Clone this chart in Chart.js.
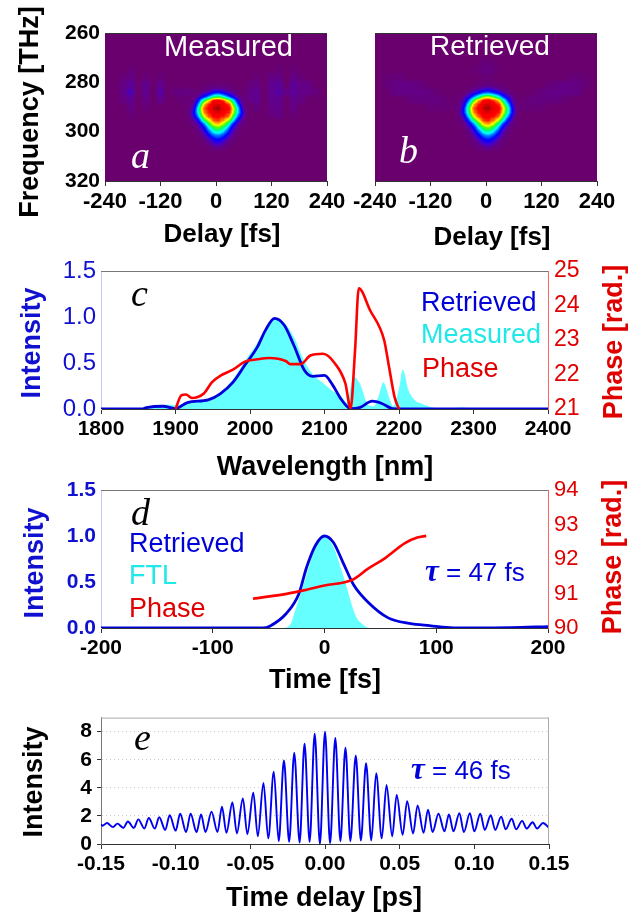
<!DOCTYPE html>
<html>
<head>
<meta charset="utf-8">
<style>
    html, body { margin: 0; padding: 0; background: #fff; }
    #page { position: relative; width: 639px; height: 913px; overflow: hidden; background: #fff; filter: blur(0.35px); }
    #page canvas { position: absolute; }
    .note { position: absolute; line-height: 1; white-space: nowrap; transform: translateY(-50%); font-family: "Liberation Sans", sans-serif; }
    .letter { font-family: "Liberation Serif", serif; font-style: italic; font-size: 38px; }
    .tau { font-family: "Liberation Serif", serif; font-style: italic; font-weight: bold; font-size: 31px; }
    .title { position: absolute; line-height: 1; white-space: nowrap; font-family: "Liberation Sans", sans-serif; font-weight: bold; font-size: 27px; transform: translate(-50%, -50%); color: #000; }
    .up { transform: translate(-50%, -50%) rotate(-90deg); }
</style>
</head>
<body>
<div id="page">
    <canvas id="chartA" width="350" height="245" style="left:0;top:0"></canvas>
    <canvas id="chartB" width="289" height="245" style="left:350px;top:0"></canvas>
    <canvas id="chartC" width="639" height="235" style="left:0;top:250px"></canvas>
    <canvas id="chartD" width="639" height="225" style="left:0;top:470px"></canvas>
    <canvas id="chartE" width="639" height="213" style="left:0;top:700px"></canvas>

    <span class="title" style="left:222px;top:233px;font-size:26px">Delay [fs]</span>
    <span class="title" style="left:492px;top:236px;font-size:26px">Delay [fs]</span>
    <span class="title" style="left:325px;top:466px">Wavelength [nm]</span>
    <span class="title" style="left:325px;top:679px">Time [fs]</span>
    <span class="title" style="left:324px;top:897px">Time delay [ps]</span>

    <span class="title up" style="left:29px;top:112px">Frequency [THz]</span>
    <span class="title up" style="left:31px;top:343px;color:#1010d0">Intensity</span>
    <span class="title up" style="left:34px;top:563px;color:#1010d0">Intensity</span>
    <span class="title up" style="left:33px;top:782px">Intensity</span>
    <span class="title up" style="left:613px;top:342px;color:#e00000">Phase [rad.]</span>
    <span class="title up" style="left:612px;top:557px;color:#e00000">Phase [rad.]</span>

    <span class="note" style="left:164px;top:46px;font-size:29px;color:#fff">Measured</span>
    <span class="note" style="left:430px;top:46px;font-size:28px;color:#fff">Retrieved</span>
    <span class="note letter" style="left:131px;top:155px;color:#fff">a</span>
    <span class="note letter" style="left:399px;top:150px;color:#fff">b</span>
    <span class="note letter" style="left:131px;top:293px;color:#000">c</span>
    <span class="note letter" style="left:131px;top:512px;color:#000">d</span>
    <span class="note letter" style="left:134px;top:737px;color:#000">e</span>

    <span class="note" style="left:421px;top:302px;font-size:27px;color:#0000d8">Retrieved</span>
    <span class="note" style="left:421px;top:334px;font-size:27px;color:#20e8e8">Measured</span>
    <span class="note" style="left:422px;top:368px;font-size:27px;color:#e00000">Phase</span>

    <span class="note" style="left:129px;top:543px;font-size:27px;color:#0000d8">Retrieved</span>
    <span class="note" style="left:129px;top:575px;font-size:27px;color:#20e8e8">FTL</span>
    <span class="note" style="left:129px;top:608px;font-size:27px;color:#e00000">Phase</span>

    <span class="note" style="left:425px;top:570px;font-size:26px;color:#0000d8"><span class="tau">τ</span> = 47 fs</span>
    <span class="note" style="left:411px;top:768px;font-size:26px;color:#0000d8"><span class="tau">τ</span> = 46 fs</span>
</div>

<script src="https://cdn.jsdelivr.net/npm/chart.js@4"></script>
<script>
// tick labels
const delayTicks = [-240, -120, 0, 120, 240];
const freqTicks = [260, 280, 300, 320];
const intensityTicks = [0, 0.5, 1, 1.5];
const wavelengthTicks = [1800, 1900, 2000, 2100, 2200, 2300, 2400];
const phaseCTicks = [21, 22, 23, 24, 25];
const timeTicks = [-200, -100, 0, 100, 200];
const phaseDTicks = [90, 91, 92, 93, 94];
const acTicksX = [-0.15, -0.10, -0.05, 0, 0.05, 0.10, 0.15];
const acTicksY = [0, 2, 4, 6, 8];

// FROG traces, levels in percent. Coarse grid holds the faint features, fine grid the main spot
const coarseDelays = [-232, -216, -200, -184, -168, -152, -136, -120, -104, -88, -72, -56, -40, -24, -8, 8, 24, 40, 56, 72, 88, 104, 120, 136, 152, 168, 184, 200, 216, 232];
const coarseFreqs = [272, 275, 278, 281, 284, 287, 290, 293];
const measuredFaint = [
    [0,0,0,0,0,0,0,0,0,0,0,0,0,0,0,0,0,0,0,0,0,0,0,0,0,0,0,0,0,0],
    [0,0,0,2,0,0,0,0,0,0,0,0,0,0,0,0,0,0,0,0,0,0,0,2,0,2,0,0,0,0],
    [0,0,2,4,0,2,0,2,0,0,0,0,0,0,0,0,0,0,0,0,2,0,4,4,0,4,2,0,0,0],
    [0,0,4,7,0,6,0,6,0,0,0,0,0,0,0,0,0,0,0,2,4,0,6,7,0,7,4,4,0,0],
    [0,0,5,9,0,6,0,8,0,3,3,3,0,0,0,0,0,0,0,4,6,0,6,8,4,7,4,4,2,0],
    [0,0,3,6,0,4,0,5,0,0,2,0,0,0,0,0,0,0,0,4,6,0,5,6,0,5,3,0,0,0],
    [0,0,0,4,0,2,0,0,0,0,0,0,0,0,0,0,0,0,0,0,3,0,4,5,0,4,0,0,0,0],
    [0,0,0,2,0,0,0,0,0,0,0,0,0,0,0,0,0,0,0,0,0,0,3,4,0,2,0,0,0,0]
];
const retrievedFaint = [
    [0,0,0,0,0,0,0,0,0,0,0,0,0,0,2,2,0,0,0,0,0,0,0,0,0,0,0,0,0,0],
    [0,0,0,0,0,0,0,0,0,0,0,0,0,1,3,3,1,0,0,0,0,0,0,0,0,0,0,0,0,0],
    [0,1,2,2,0,0,0,0,0,0,0,0,0,0,1,1,0,0,0,0,0,0,0,0,0,0,2,2,1,0],
    [0,2,3,4,4,3,2,0,0,0,0,0,0,0,0,0,0,0,0,0,0,0,0,2,3,4,4,3,2,0],
    [0,0,3,4,4,4,4,3,1,0,0,0,0,0,0,0,0,0,0,0,0,1,3,4,4,4,4,3,0,0],
    [0,0,0,0,2,3,3,3,3,2,0,0,0,0,0,0,0,0,0,0,2,3,3,3,3,2,0,0,0,0],
    [0,0,0,0,0,0,0,2,2,2,1,0,0,0,0,0,0,0,0,1,2,2,2,0,0,0,0,0,0,0],
    [0,0,0,0,0,0,0,0,0,0,0,0,0,0,0,0,0,0,0,0,0,0,0,0,0,0,0,0,0,0]
];
const fineDelays = [-64, -56, -48, -40, -32, -24, -16, -8, 0, 8, 16, 24, 32, 40, 48, 56, 64];
const fineFreqs = [281, 282.6, 284.2, 285.8, 287.4, 289, 290.6, 292.2, 293.8, 295.4, 297, 298.6, 300.2, 301.8, 303.4, 305, 306.6];
const measuredSpot = [
    [0,0,0,0,0,1,1,2,2,2,1,1,0,0,0,0,0],
    [0,0,0,0,1,2,4,5,6,6,5,4,2,1,0,0,0],
    [0,0,0,2,5,8,12,18,24,24,18,12,8,5,2,0,0],
    [0,1,2,5,14,22,34,46,55,55,46,34,22,14,5,2,1],
    [0,1,4,18,40,60,73,87,90,90,87,73,60,40,18,4,1],
    [1,2,8,30,56,79,86,92,96,96,92,86,79,56,30,8,2],
    [1,3,14,42,69,84,89,97,100,100,97,89,84,69,42,14,3],
    [1,5,20,42,65,82,86,92,96,96,92,86,82,65,42,20,5],
    [1,3,15,32,56,73,84,87,88,88,87,84,73,56,32,15,3],
    [0,2,7,18,38,60,70,80,84,84,80,70,60,38,18,7,2],
    [0,1,3,7,20,35,57,68,74,74,68,57,35,20,7,3,1],
    [0,0,1,4,11,22,40,52,60,60,52,40,22,11,4,1,0],
    [0,0,0,2,6,14,28,40,46,46,40,28,14,6,2,0,0],
    [0,0,0,1,3,8,16,26,31,31,26,16,8,3,1,0,0],
    [0,0,0,0,1,4,8,15,20,20,15,8,4,1,0,0,0],
    [0,0,0,0,0,1,4,8,11,11,8,4,1,0,0,0,0],
    [0,0,0,0,0,0,1,3,5,5,3,1,0,0,0,0,0]
];
const retrievedSpot = [
    [0,0,0,0,0,1,2,3,3,3,3,2,1,0,0,0,0],
    [0,0,0,1,2,4,6,9,11,11,9,6,4,2,1,0,0],
    [0,0,1,4,9,14,20,26,30,30,26,20,14,9,4,1,0],
    [1,2,5,13,22,34,48,60,66,66,60,48,34,22,13,5,2],
    [1,3,10,26,46,66,80,86,90,90,86,80,66,46,26,10,3],
    [2,5,16,40,62,80,86,93,97,97,93,86,80,62,40,16,5],
    [2,6,22,50,72,84,90,97,100,100,97,90,84,72,50,22,6],
    [2,6,24,48,68,82,87,92,96,96,92,87,82,68,48,24,6],
    [1,4,16,36,58,74,84,88,89,89,88,84,74,58,36,16,4],
    [1,2,8,22,42,60,72,82,85,85,82,72,60,42,22,8,2],
    [0,1,3,10,22,38,58,70,76,76,70,58,38,22,10,3,1],
    [0,0,2,5,13,24,42,54,62,62,54,42,24,13,5,2,0],
    [0,0,1,2,7,15,29,41,48,48,41,29,15,7,2,1,0],
    [0,0,0,1,4,9,17,27,33,33,27,17,9,4,1,0,0],
    [0,0,0,0,2,5,9,16,21,21,16,9,5,2,0,0,0],
    [0,0,0,0,1,2,5,9,12,12,9,5,2,1,0,0,0],
    [0,0,0,0,0,1,2,4,6,6,4,2,1,0,0,0,0]
];

// panel c, spectrum
const retrievedLambda = [1800, 1855, 1861, 1883, 1900, 1916, 1944, 1960, 1977, 1993, 2010, 2021, 2033, 2046, 2059, 2073, 2084, 2100, 2111, 2122, 2135, 2147, 2164, 2177, 2191, 2205, 2400];
const retrievedSpec = [0, 0, 0.015, 0.03, 0.005, 0.07, 0.10, 0.165, 0.29, 0.475, 0.675, 0.86, 0.985, 0.91, 0.69, 0.42, 0.355, 0.365, 0.26, 0.11, 0.005, 0.015, 0.085, 0.06, 0.005, 0, 0];
const measuredLambda = [1800, 1860, 1875, 1890, 1900, 1916, 1944, 1960, 1977, 1993, 2010, 2021, 2033, 2046, 2059, 2073, 2084, 2100, 2110, 2122, 2130, 2139, 2148, 2158, 2166, 2173, 2179, 2187, 2192, 2200, 2205, 2213, 2222, 2230, 2245, 2260, 2285, 2305, 2400];
const measuredSpec = [0, 0, 0.03, 0.05, 0.04, 0.07, 0.11, 0.18, 0.32, 0.52, 0.72, 0.88, 0.99, 0.94, 0.78, 0.52, 0.38, 0.27, 0.20, 0.14, 0.07, 0.35, 0.27, 0.05, 0.03, 0.15, 0.29, 0.12, 0.03, 0.22, 0.43, 0.2, 0.09, 0.06, 0.015, 0, 0.015, 0, 0];
const phaseLambda = [1900, 1908, 1914, 1922, 1938, 1949, 1960, 1977, 1993, 2010, 2026, 2048, 2054, 2068, 2081, 2098, 2114, 2128, 2135, 2141, 2146, 2161, 2180, 2186, 2194, 2200];
const phaseSpec = [21, 21.4, 21.42, 21.32, 21.45, 21.78, 21.96, 22.14, 22.37, 22.44, 22.48, 22.39, 22.3, 22.3, 22.55, 22.6, 22.32, 21.74, 21.02, 22.7, 24.5, 23.87, 23, 22.3, 21.35, 21];

// panel d, pulse
const retrievedTime = [-200, -55, -49, -34, -23, -16, -8, 0, 8, 17, 26, 39, 57, 76, 94, 112, 131, 167, 200];
const retrievedPulse = [0, 0, 0.02, 0.16, 0.37, 0.66, 0.9, 1, 0.93, 0.7, 0.47, 0.28, 0.11, 0.05, 0.025, 0.005, 0, 0.003, 0.015];
const ftlTime = [-200, -38, -30, -27, -17.6, -8, 0, 8, 17, 28, 34, 40, 200];
const ftlPulse = [0, 0, 0.05, 0.16, 0.52, 0.88, 1, 0.88, 0.56, 0.13, 0.04, 0, 0];
const phaseTime = [-64, -34, -16, 0, 25, 39, 54, 72, 83, 91];
const phasePulse = [90.85, 90.99, 91.11, 91.23, 91.4, 91.72, 92.02, 92.46, 92.62, 92.67];

// panel e, autocorrelation: turning points of the fringes
const acDelay = [-0.15, -0.149, -0.146, -0.142, -0.139, -0.135, -0.132, -0.128, -0.125, -0.121, -0.118, -0.114, -0.111, -0.107, -0.104, -0.1, -0.097, -0.093, -0.09, -0.086, -0.083, -0.08, -0.076, -0.072, -0.069, -0.066, -0.062, -0.059, -0.055, -0.052, -0.048, -0.045, -0.0412, -0.038, -0.0343, -0.031, -0.0275, -0.024, -0.0206, -0.017, -0.0137, -0.0103, -0.0069, -0.0034, 0, 0.0034, 0.0069, 0.0103, 0.0137, 0.017, 0.0206, 0.024, 0.0275, 0.031, 0.0343, 0.038, 0.0412, 0.045, 0.048, 0.052, 0.055, 0.059, 0.062, 0.066, 0.069, 0.072, 0.076, 0.08, 0.083, 0.086, 0.09, 0.093, 0.097, 0.1, 0.104, 0.107, 0.111, 0.114, 0.118, 0.121, 0.125, 0.128, 0.132, 0.135, 0.139, 0.142, 0.146, 0.15];
const acIntensity = [1.4, 1.3, 1.5, 1.2, 1.45, 1.15, 1.6, 1.15, 1.75, 1.1, 1.85, 1.1, 1.9, 1.0, 2.05, 0.95, 2.15, 0.85, 2.15, 0.85, 2.1, 0.85, 2.3, 0.85, 2.65, 0.8, 2.95, 0.75, 3.25, 0.7, 3.65, 0.55, 4.35, 0.4, 5.15, 0.2, 5.95, 0.15, 6.5, 0.1, 7.15, 0.15, 7.85, 0, 8, 0.05, 7.55, 0.2, 6.85, 0.2, 6.3, 0.25, 5.75, 0.25, 5.05, 0.4, 4.2, 0.55, 3.5, 0.65, 3.05, 0.75, 2.75, 0.8, 2.45, 0.85, 2.15, 0.9, 2.1, 0.9, 2.2, 0.85, 2.2, 0.9, 2.15, 1.0, 2.05, 1.0, 1.95, 1.05, 1.8, 1.05, 1.65, 1.1, 1.55, 1.1, 1.5, 1.15];

// rainbow colour map for the traces
const mapStops = [
    [0, 106, 0, 110], [0.06, 95, 0, 145], [0.12, 60, 0, 215], [0.2, 0, 0, 255], [0.32, 0, 130, 255], [0.4, 0, 255, 255],
    [0.5, 0, 255, 110], [0.57, 80, 255, 0], [0.65, 255, 255, 0], [0.72, 255, 130, 0], [0.79, 255, 0, 0], [0.86, 235, 0, 0], [0.93, 125, 5, 10], [1, 90, 10, 15]
];

function mapColor(v) {
    let i = 1;
    while (i < mapStops.length - 1 && v > mapStops[i][0]) i++;
    const a = mapStops[i - 1], b = mapStops[i];
    const t = Math.min(1, Math.max(0, (v - a[0]) / (b[0] - a[0])));
    return [a[1] + (b[1] - a[1]) * t, a[2] + (b[2] - a[2]) * t, a[3] + (b[3] - a[3]) * t];
}

function gridCells(xs, ys, rows) {
    const cells = [];
    rows.forEach((row, j) => row.forEach((v, i) => {
        if (v > 0) cells.push({x: xs[i], y: ys[j], v: v / 100, dx: xs[1] - xs[0], dy: ys[1] - ys[0]});
    }));
    return cells;
}

// draws the cells of dataset 0 through the scales, smooths the levels and colours them afterwards
const heatmapPlugin = {
    id: 'heatmap',
    beforeDatasetsDraw(chart) {
        const area = chart.chartArea;
        const xScale = chart.scales.x, yScale = chart.scales.y;
        const w = Math.round(area.width), h = Math.round(area.height);
        const raw = document.createElement('canvas');
        raw.width = w; raw.height = h;
        const rawCtx = raw.getContext('2d');
        rawCtx.fillStyle = '#000';
        rawCtx.fillRect(0, 0, w, h);
        rawCtx.globalCompositeOperation = 'lighten';
        chart.data.datasets[0].data.forEach(c => {
            const x0 = xScale.getPixelForValue(c.x - c.dx / 2) - area.left;
            const x1 = xScale.getPixelForValue(c.x + c.dx / 2) - area.left;
            const y0 = yScale.getPixelForValue(c.y - c.dy / 2) - area.top;
            const y1 = yScale.getPixelForValue(c.y + c.dy / 2) - area.top;
            const g = Math.round(c.v * 255);
            rawCtx.fillStyle = `rgb(${g},${g},${g})`;
            rawCtx.fillRect(x0, y0, x1 - x0, y1 - y0);
        });
        const out = document.createElement('canvas');
        out.width = w; out.height = h;
        const outCtx = out.getContext('2d');
        outCtx.filter = 'blur(1.4px)';
        outCtx.drawImage(raw, 0, 0);
        outCtx.filter = 'none';
        const img = outCtx.getImageData(0, 0, w, h);
        for (let i = 0; i < img.data.length; i += 4) {
            const c = mapColor(img.data[i] / 255);
            img.data[i] = c[0]; img.data[i + 1] = c[1]; img.data[i + 2] = c[2]; img.data[i + 3] = 255;
        }
        outCtx.putImageData(img, 0, 0);
        chart.ctx.drawImage(out, area.left, area.top);
    }
};

// top and right edge of the plot box
const framePlugin = {
    id: 'frame',
    afterDraw(chart, args, opts) {
        const a = chart.chartArea, ctx = chart.ctx;
        ctx.save();
        ctx.lineWidth = 1;
        ctx.strokeStyle = opts.top;
        ctx.beginPath();
        ctx.moveTo(a.left, a.top + 0.5);
        ctx.lineTo(a.right, a.top + 0.5);
        ctx.stroke();
        if (opts.right) {
            ctx.strokeStyle = opts.right;
            ctx.beginPath();
            ctx.moveTo(a.right - 0.5, a.top);
            ctx.lineTo(a.right - 0.5, a.bottom);
            ctx.stroke();
        }
        ctx.restore();
    }
};

const boldFont = size => ({family: 'Liberation Sans', size: size, weight: 'bold'});
const plainFont = size => ({family: 'Liberation Sans', size: size});

// linear axis with fixed ticks and a fixed box size, so the plot lands where it has to
function axis(o) {
    const size = o.size;
    return {
        type: 'linear',
        position: o.position,
        min: o.min,
        max: o.max,
        reverse: !!o.reverse,
        afterBuildTicks: s => { s.ticks = o.values.map(v => ({value: v})); },
        afterFit: s => {
            if (s.isHorizontal()) s.height = size; else s.width = size;
        },
        ticks: {
            display: o.labels !== false,
            autoSkip: false,
            maxRotation: 0,
            padding: o.pad === undefined ? 3 : o.pad,
            color: o.color || '#000',
            font: o.font || boldFont(21),
            callback: v => o.decimals === undefined ? String(v) : v.toFixed(o.decimals)
        },
        grid: {
            display: true,
            drawOnChartArea: !!o.gridColor,
            color: o.gridColor || 'rgba(0,0,0,0)',
            drawTicks: o.tickLength !== 0,
            tickLength: o.tickLength === undefined ? 5 : o.tickLength,
            tickColor: o.tickColor || '#333'
        },
        border: {color: o.borderColor || '#333', width: 1, dash: o.dash}
    };
}

function traceChart(id, plotLeft, plotRight, faint, spot, yOpts) {
    new Chart(document.getElementById(id), {
        type: 'scatter',
        plugins: [heatmapPlugin, framePlugin],
        data: {
            datasets: [{
                data: gridCells(coarseDelays, coarseFreqs, faint).concat(gridCells(fineDelays, fineFreqs, spot)),
                pointRadius: 0
            }]
        },
        options: {
            responsive: false,
            animation: false,
            devicePixelRatio: 1,
            events: [],
            layout: {padding: {top: 33, right: plotRight, left: 0, bottom: 0}},
            scales: {
                x: axis({position: 'bottom', min: -240, max: 240, values: delayTicks, size: 64, tickLength: 5, font: boldFont(22)}),
                y: axis(Object.assign({position: 'left', min: 260, max: 320, reverse: true, values: freqTicks, size: plotLeft, tickLength: 0, pad: 5, borderColor: '#6a006e'}, yOpts))
            },
            plugins: {legend: {display: false}, tooltip: {enabled: false}, frame: {top: '#333'}}
        }
    });
}

traceChart('chartA', 105, 23, measuredFaint, measuredSpot, {});
traceChart('chartB', 25, 42, retrievedFaint, retrievedSpot, {labels: false});

function pts(xs, ys) {
    return xs.map((x, i) => ({x: x, y: ys[i]}));
}

const BLUE = '#0000dc', RED = '#ff0000', CYAN = '#66ffff';
const TEXT_BLUE = '#1010d0', TEXT_RED = '#e00000';

function lineSet(xs, ys, color, yAxisID, width) {
    return {data: pts(xs, ys), borderColor: color, borderWidth: width, pointRadius: 0, cubicInterpolationMode: 'monotone', fill: false, yAxisID: yAxisID};
}

function fillSet(xs, ys) {
    return {data: pts(xs, ys), borderWidth: 0, backgroundColor: CYAN, pointRadius: 0, cubicInterpolationMode: 'monotone', fill: 'origin', yAxisID: 'y'};
}

function spectrumChart(id, top, xOpts, leftFont, rightFont, rightOpts, datasets) {
    new Chart(document.getElementById(id), {
        type: 'line',
        plugins: [framePlugin],
        data: {datasets: datasets},
        options: {
            responsive: false,
            animation: false,
            devicePixelRatio: 1,
            events: [],
            layout: {padding: {top: top, left: 0, right: 0, bottom: 0}},
            scales: {
                x: axis(xOpts),
                y: axis({position: 'left', min: 0, max: 1.5, values: intensityTicks, size: 101, decimals: 1, color: TEXT_BLUE, font: leftFont, tickLength: 0, pad: 5, borderColor: '#c0c8ff'}),
                y2: axis(Object.assign({position: 'right', size: 91, tickLength: 0, color: TEXT_RED, font: rightFont, borderColor: '#ff6060', pad: 6}, rightOpts))
            },
            plugins: {legend: {display: false}, tooltip: {enabled: false}, frame: {top: '#777'}}
        }
    });
}

spectrumChart('chartC', 21,
    {position: 'bottom', min: 1800, max: 2400, values: wavelengthTicks, size: 76},
    plainFont(24), plainFont(23),
    {min: 21, max: 25, values: phaseCTicks},
    [lineSet(phaseLambda, phaseSpec, RED, 'y2', 2.6), lineSet(retrievedLambda, retrievedSpec, BLUE, 'y', 2.8), fillSet(measuredLambda, measuredSpec)]);

spectrumChart('chartD', 20,
    {position: 'bottom', min: -200, max: 200, values: timeTicks, size: 67},
    boldFont(21), plainFont(22),
    {min: 90, max: 94, values: phaseDTicks},
    [lineSet(phaseTime, phasePulse, RED, 'y2', 2.6), lineSet(retrievedTime, retrievedPulse, BLUE, 'y', 2.8), fillSet(ftlTime, ftlPulse)]);

new Chart(document.getElementById('chartE'), {
    type: 'line',
    plugins: [framePlugin],
    data: {
        datasets: [{data: pts(acDelay, acIntensity), borderColor: '#0000f0', borderWidth: 1.9, pointRadius: 0, cubicInterpolationMode: 'monotone', fill: false}]
    },
    options: {
        responsive: false,
        animation: false,
        devicePixelRatio: 1,
        events: [],
        layout: {padding: {top: 6, left: 0, right: 90, bottom: 0}},
        scales: {
            x: axis({position: 'bottom', min: -0.15, max: 0.15, values: acTicksX, decimals: 2, size: 69}),
            y: axis({position: 'left', min: 0, max: 9, values: acTicksY, size: 101, gridColor: '#cccccc', dash: [1, 3], borderColor: '#777', tickLength: 4, pad: 5})
        },
        plugins: {legend: {display: false}, tooltip: {enabled: false}, frame: {top: '#aaa', right: '#aaa'}}
    }
});
</script>
</body>
</html>
